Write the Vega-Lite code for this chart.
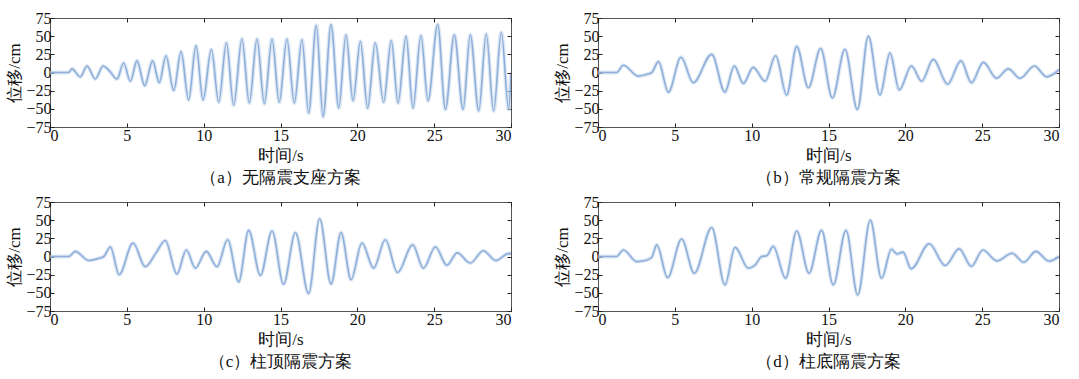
{
  "$schema": "https://vega.github.io/schema/vega-lite/v6.json",
  "background": "white",
  "padding": {"left": 5, "top": 9, "right": 5, "bottom": 2},
  "bounds": "flush",
  "spacing": {"row": 75, "column": 87},
  "columns": 2,
  "config": {
    "font": "Liberation Serif",
    "view": {"stroke": "#555", "strokeWidth": 1},
    "axis": {
      "labelFont": "Liberation Serif",
      "labelFontSize": 16,
      "labelColor": "#111",
      "titleFont": "Liberation Serif",
      "titleFontSize": 17,
      "titleFontWeight": "normal",
      "titleColor": "#111",
      "domain": false,
      "grid": false,
      "tickColor": "#222",
      "tickSize": -4,
      "labelPadding": 3
    },
    "axisBottom": {"labelPadding": 4},
    "title": {"font": "Liberation Serif", "fontSize": 17, "fontWeight": "normal", "color": "#111", "orient": "bottom", "anchor": "middle", "offset": 7}
  },
  "datasets": {
    "a": [
      {"t": 0, "v": 0}, {"t": 1.21, "v": 0}, {"t": 1.43, "v": 5}, {"t": 1.97, "v": -6}, {"t": 2.41, "v": 9}, {"t": 2.95, "v": -9}, {"t": 3.45, "v": 9}, {"t": 3.88, "v": 2}, {"t": 4.36, "v": -9}, {"t": 4.79, "v": 13}, {"t": 5.23, "v": -12}, {"t": 5.66, "v": 16}, {"t": 6.16, "v": -18}, {"t": 6.68, "v": 16}, {"t": 7.11, "v": -14}, {"t": 7.55, "v": 23}, {"t": 8.05, "v": -25}, {"t": 8.53, "v": 29}, {"t": 9.02, "v": -38}, {"t": 9.5, "v": 37}, {"t": 9.96, "v": -38}, {"t": 10.5, "v": 32}, {"t": 10.98, "v": -41}, {"t": 11.48, "v": 41}, {"t": 11.95, "v": -45}, {"t": 12.49, "v": 46}, {"t": 12.97, "v": -42}, {"t": 13.47, "v": 46}, {"t": 13.95, "v": -43}, {"t": 14.45, "v": 46}, {"t": 14.92, "v": -41}, {"t": 15.42, "v": 46}, {"t": 15.9, "v": -42}, {"t": 16.4, "v": 45}, {"t": 16.83, "v": -56}, {"t": 17.33, "v": 65}, {"t": 17.77, "v": -61}, {"t": 18.29, "v": 66}, {"t": 18.79, "v": -49}, {"t": 19.26, "v": 52}, {"t": 19.72, "v": -39}, {"t": 20.2, "v": 43}, {"t": 20.67, "v": -49}, {"t": 21.17, "v": 41}, {"t": 21.71, "v": -41}, {"t": 22.21, "v": 44}, {"t": 22.65, "v": -42}, {"t": 23.17, "v": 50}, {"t": 23.62, "v": -49}, {"t": 24.14, "v": 51}, {"t": 24.6, "v": -39}, {"t": 25.23, "v": 66}, {"t": 25.73, "v": -51}, {"t": 26.31, "v": 52}, {"t": 26.88, "v": -51}, {"t": 27.35, "v": 52}, {"t": 27.9, "v": -53}, {"t": 28.39, "v": 53}, {"t": 28.87, "v": -53}, {"t": 29.37, "v": 55}, {"t": 29.85, "v": -51}, {"t": 30, "v": -2}
    ],
    "b": [
      {"t": 0, "v": 0}, {"t": 1.21, "v": 0}, {"t": 1.65, "v": 10}, {"t": 2.62, "v": -5}, {"t": 3.1, "v": -3}, {"t": 3.5, "v": 0}, {"t": 3.93, "v": 15}, {"t": 4.58, "v": -27}, {"t": 5.4, "v": 21}, {"t": 6.2, "v": -14}, {"t": 7.4, "v": 25}, {"t": 8.26, "v": -27}, {"t": 8.87, "v": 9}, {"t": 9.46, "v": -15}, {"t": 10.1, "v": 7}, {"t": 10.87, "v": -12}, {"t": 11.56, "v": 23}, {"t": 12.28, "v": -31}, {"t": 12.93, "v": 36}, {"t": 13.69, "v": -21}, {"t": 14.49, "v": 33}, {"t": 15.25, "v": -35}, {"t": 16.07, "v": 32}, {"t": 16.88, "v": -51}, {"t": 17.59, "v": 50}, {"t": 18.35, "v": -31}, {"t": 19.0, "v": 27}, {"t": 19.6, "v": -24}, {"t": 20.4, "v": 9}, {"t": 21.06, "v": -12}, {"t": 21.82, "v": 18}, {"t": 22.75, "v": -16}, {"t": 23.62, "v": 16}, {"t": 24.3, "v": -14}, {"t": 25.08, "v": 14}, {"t": 25.94, "v": -8}, {"t": 26.7, "v": 5}, {"t": 27.46, "v": -8}, {"t": 28.4, "v": 9}, {"t": 29.2, "v": -6}, {"t": 30, "v": 4}
    ],
    "c": [
      {"t": 0, "v": 0}, {"t": 1.21, "v": 0}, {"t": 1.65, "v": 7}, {"t": 2.52, "v": -5.5}, {"t": 3.1, "v": -3}, {"t": 3.5, "v": 0}, {"t": 3.93, "v": 13}, {"t": 4.5, "v": -25}, {"t": 5.4, "v": 18.5}, {"t": 6.2, "v": -14}, {"t": 6.9, "v": 5}, {"t": 7.5, "v": 22}, {"t": 8.26, "v": -24}, {"t": 8.87, "v": 9}, {"t": 9.46, "v": -16}, {"t": 10.17, "v": 7}, {"t": 10.87, "v": -14}, {"t": 11.56, "v": 23}, {"t": 12.28, "v": -35}, {"t": 12.93, "v": 36}, {"t": 13.69, "v": -26}, {"t": 14.45, "v": 35}, {"t": 15.2, "v": -38}, {"t": 15.97, "v": 33}, {"t": 16.83, "v": -51}, {"t": 17.55, "v": 52}, {"t": 18.29, "v": -38}, {"t": 18.94, "v": 33}, {"t": 19.59, "v": -32}, {"t": 20.3, "v": 18.5}, {"t": 21.06, "v": -16}, {"t": 21.82, "v": 23}, {"t": 22.62, "v": -22}, {"t": 23.6, "v": 16}, {"t": 24.3, "v": -16}, {"t": 25.08, "v": 13}, {"t": 25.83, "v": -12}, {"t": 26.5, "v": 5}, {"t": 27.35, "v": -9}, {"t": 28.2, "v": 8}, {"t": 29.0, "v": -5.5}, {"t": 29.85, "v": 4}, {"t": 30, "v": 4}
    ],
    "d": [
      {"t": 0, "v": 0}, {"t": 1.21, "v": 0}, {"t": 1.65, "v": 9}, {"t": 2.52, "v": -7}, {"t": 3.06, "v": -5.5}, {"t": 3.5, "v": -1}, {"t": 3.82, "v": 16}, {"t": 4.53, "v": -29}, {"t": 5.44, "v": 24}, {"t": 6.27, "v": -23}, {"t": 7.4, "v": 40}, {"t": 8.26, "v": -39}, {"t": 8.92, "v": 12.5}, {"t": 9.78, "v": -16}, {"t": 10.22, "v": -12}, {"t": 10.65, "v": 0}, {"t": 10.98, "v": 1}, {"t": 11.4, "v": 14}, {"t": 12.21, "v": -30}, {"t": 12.93, "v": 35}, {"t": 13.73, "v": -23}, {"t": 14.55, "v": 36}, {"t": 15.31, "v": -39}, {"t": 16.14, "v": 36}, {"t": 16.9, "v": -53}, {"t": 17.72, "v": 50}, {"t": 18.45, "v": -30}, {"t": 19.1, "v": 10}, {"t": 19.45, "v": 3.5}, {"t": 19.85, "v": 6}, {"t": 20.38, "v": -17}, {"t": 21.55, "v": 17.5}, {"t": 22.6, "v": -12.5}, {"t": 23.5, "v": 10.5}, {"t": 24.3, "v": -13.5}, {"t": 25.05, "v": 9}, {"t": 25.96, "v": -6}, {"t": 26.95, "v": 4.5}, {"t": 27.7, "v": -8}, {"t": 28.5, "v": 7}, {"t": 29.35, "v": -6.5}, {"t": 30, "v": 0}
    ]
  },
  "concat": [
    {
      "width": 461, "height": 109,
      "title": {"text": "（a）无隔震支座方案"},
      "data": {"name": "a"},
      "layer": [
        {"mark": {"type": "line", "color": "#c6d8ef", "strokeWidth": 4, "opacity": 0.6, "interpolate": "monotone", "clip": true},
         "encoding": {
           "x": {"field": "t", "type": "quantitative", "scale": {"domain": [0, 30], "nice": false}, "axis": {"orient": "bottom", "values": [0, 5, 10, 15, 20, 25, 30], "title": "时间/s", "titlePadding": 4}},
           "y": {"field": "v", "type": "quantitative", "scale": {"domain": [-75, 75], "nice": false}, "axis": {"orient": "left", "values": [-75, -50, -25, 0, 25, 50, 75], "title": "位移/cm", "titlePadding": 2}}
         }},
        {"mark": {"type": "line", "color": "#86a9d6", "strokeWidth": 1.6, "opacity": 0.9, "interpolate": "monotone", "clip": true},
         "encoding": {
           "x": {"field": "t", "type": "quantitative", "axis": {"orient": "top", "values": [0, 5, 10, 15, 20, 25, 30], "labels": false, "title": null}},
           "y": {"field": "v", "type": "quantitative", "axis": {"orient": "right", "values": [-75, -50, -25, 0, 25, 50, 75], "labels": false, "title": null}}
         }}
      ],
      "resolve": {"axis": {"x": "independent", "y": "independent"}}
    },
    {
      "width": 461, "height": 109,
      "title": {"text": "（b）常规隔震方案"},
      "data": {"name": "b"},
      "layer": [
        {"mark": {"type": "line", "color": "#c6d8ef", "strokeWidth": 4, "opacity": 0.6, "interpolate": "monotone", "clip": true},
         "encoding": {
           "x": {"field": "t", "type": "quantitative", "scale": {"domain": [0, 30], "nice": false}, "axis": {"orient": "bottom", "values": [0, 5, 10, 15, 20, 25, 30], "title": "时间/s", "titlePadding": 4}},
           "y": {"field": "v", "type": "quantitative", "scale": {"domain": [-75, 75], "nice": false}, "axis": {"orient": "left", "values": [-75, -50, -25, 0, 25, 50, 75], "title": "位移/cm", "titlePadding": 2}}
         }},
        {"mark": {"type": "line", "color": "#86a9d6", "strokeWidth": 1.6, "opacity": 0.9, "interpolate": "monotone", "clip": true},
         "encoding": {
           "x": {"field": "t", "type": "quantitative", "axis": {"orient": "top", "values": [0, 5, 10, 15, 20, 25, 30], "labels": false, "title": null}},
           "y": {"field": "v", "type": "quantitative", "axis": {"orient": "right", "values": [-75, -50, -25, 0, 25, 50, 75], "labels": false, "title": null}}
         }}
      ],
      "resolve": {"axis": {"x": "independent", "y": "independent"}}
    },
    {
      "width": 461, "height": 109,
      "title": {"text": "（c）柱顶隔震方案"},
      "data": {"name": "c"},
      "layer": [
        {"mark": {"type": "line", "color": "#c6d8ef", "strokeWidth": 4, "opacity": 0.6, "interpolate": "monotone", "clip": true},
         "encoding": {
           "x": {"field": "t", "type": "quantitative", "scale": {"domain": [0, 30], "nice": false}, "axis": {"orient": "bottom", "values": [0, 5, 10, 15, 20, 25, 30], "title": "时间/s", "titlePadding": 4}},
           "y": {"field": "v", "type": "quantitative", "scale": {"domain": [-75, 75], "nice": false}, "axis": {"orient": "left", "values": [-75, -50, -25, 0, 25, 50, 75], "title": "位移/cm", "titlePadding": 2}}
         }},
        {"mark": {"type": "line", "color": "#86a9d6", "strokeWidth": 1.6, "opacity": 0.9, "interpolate": "monotone", "clip": true},
         "encoding": {
           "x": {"field": "t", "type": "quantitative", "axis": {"orient": "top", "values": [0, 5, 10, 15, 20, 25, 30], "labels": false, "title": null}},
           "y": {"field": "v", "type": "quantitative", "axis": {"orient": "right", "values": [-75, -50, -25, 0, 25, 50, 75], "labels": false, "title": null}}
         }}
      ],
      "resolve": {"axis": {"x": "independent", "y": "independent"}}
    },
    {
      "width": 461, "height": 109,
      "title": {"text": "（d）柱底隔震方案"},
      "data": {"name": "d"},
      "layer": [
        {"mark": {"type": "line", "color": "#c6d8ef", "strokeWidth": 4, "opacity": 0.6, "interpolate": "monotone", "clip": true},
         "encoding": {
           "x": {"field": "t", "type": "quantitative", "scale": {"domain": [0, 30], "nice": false}, "axis": {"orient": "bottom", "values": [0, 5, 10, 15, 20, 25, 30], "title": "时间/s", "titlePadding": 4}},
           "y": {"field": "v", "type": "quantitative", "scale": {"domain": [-75, 75], "nice": false}, "axis": {"orient": "left", "values": [-75, -50, -25, 0, 25, 50, 75], "title": "位移/cm", "titlePadding": 2}}
         }},
        {"mark": {"type": "line", "color": "#86a9d6", "strokeWidth": 1.6, "opacity": 0.9, "interpolate": "monotone", "clip": true},
         "encoding": {
           "x": {"field": "t", "type": "quantitative", "axis": {"orient": "top", "values": [0, 5, 10, 15, 20, 25, 30], "labels": false, "title": null}},
           "y": {"field": "v", "type": "quantitative", "axis": {"orient": "right", "values": [-75, -50, -25, 0, 25, 50, 75], "labels": false, "title": null}}
         }}
      ],
      "resolve": {"axis": {"x": "independent", "y": "independent"}}
    }
  ]
}
